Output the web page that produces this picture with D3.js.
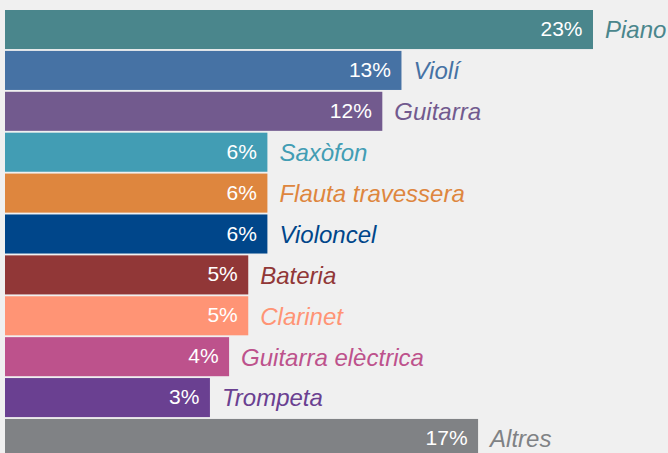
<!DOCTYPE html>
<html>
<head>
<meta charset="utf-8">
<script src="https://cdn.jsdelivr.net/npm/d3@7"></script>
<style>
	body { margin: 0; background: #f0f0f0; overflow: hidden; }
	svg { display: block; }
</style>
</head>
<body>
<div id="chart"></div>
<script>
const instruments = ["Piano", "Violí", "Guitarra", "Saxòfon", "Flauta travessera", "Violoncel", "Bateria", "Clarinet", "Guitarra elèctrica", "Trompeta", "Altres"];
const shares = [23, 13, 12, 6, 6, 6, 5, 5, 4, 3, 17];
const colors = ["#4a868c", "#4672a4", "#725a8e", "#429db4", "#de863e", "#00468a", "#913737", "#ff9475", "#bd528c", "#6a4091", "#808285"];

const width = 668;
const height = 453;

const svg = d3.select("#chart")
	.append("svg")
	.attr("width", width)
	.attr("height", height);

// bars don't start at zero in the original, axis is offset
let x = d3.scaleLinear().domain([-7.7, 23]).range([5, 593]);
let y = d3.scaleBand()
	.domain(instruments)
	.range([10, 458])
	.paddingInner(0.045)
	.paddingOuter(0);

const rows = svg.append("g")
	.selectAll("g")
	.data(instruments)
	.join("g")
	.attr("transform", d => "translate(0," + y(d) + ")");

rows.append("rect")
	.attr("x", x(-7.7))
	.attr("width", (d, i) => x(shares[i]) - x(-7.7))
	.attr("height", y.bandwidth())
	.attr("fill", (d, i) => colors[i]);

rows.append("text")
	.text((d, i) => shares[i] + "%")
	.attr("x", (d, i) => x(shares[i]) - 10.5)
	.attr("y", y.bandwidth() / 2)
	.attr("dy", "0.31em")
	.attr("text-anchor", "end")
	.attr("fill", "#fff")
	.style("font-family", "'Liberation Sans', Arial, sans-serif")
	.style("font-size", "21px");

rows.append("text")
	.text(d => d)
	.attr("x", (d, i) => x(shares[i]) + 12)
	.attr("y", y.bandwidth() / 2)
	.attr("dy", "0.37em")
	.attr("fill", (d, i) => colors[i])
	.style("font-family", "'Liberation Sans', Arial, sans-serif")
	.style("font-style", "italic")
	.style("font-size", "24px");
</script>
</body>
</html>
